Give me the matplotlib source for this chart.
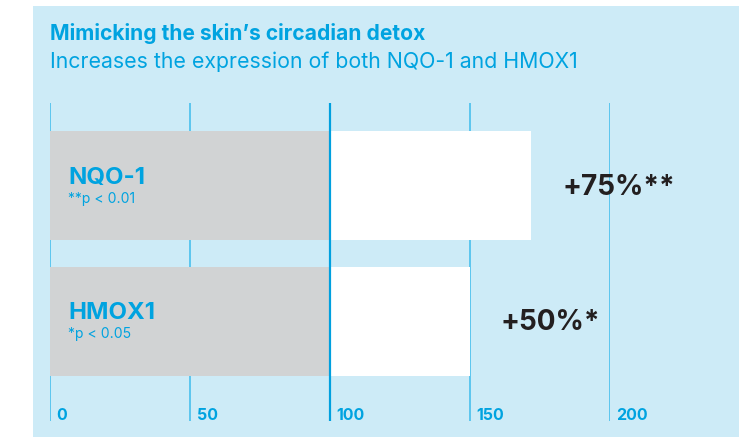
import matplotlib
matplotlib.use("Agg")
import matplotlib.pyplot as plt
from matplotlib.patches import Rectangle

plt.rcParams['font.family'] = ['Inter', 'DejaVu Sans']

# data
categories = ['NQO-1', 'HMOX1']
pvalues = ['**p < 0.01', '*p < 0.05']
control = [100, 100]
treated = [172, 150]
value_labels = ['+75%**', '+50%*']
ticks = [0, 50, 100, 150, 200]

title = 'Mimicking the skin\u2019s circadian detox'
subtitle = 'Increases the expression of both NQO-1 and HMOX1'

BLUE = '#00a3e0'
PANEL = '#cdebf7'
GRID = '#52c2ee'
GRAY = '#d1d3d4'
DARK = '#231f20'

W, H = 739, 437
fig = plt.figure(figsize=(W / 72, H / 72), dpi=72)
fig.patch.set_facecolor('white')

def fx(x):
    return x / W

def fy(y):
    return 1 - y / H

# light blue panel
fig.patches.append(Rectangle((fx(33), 0), fx(W - 33), (H - 6) / H,
                             transform=fig.transFigure, facecolor=PANEL,
                             edgecolor='none', zorder=-1))

fig.text(fx(50), fy(40), title, color=BLUE, fontsize=21, fontweight='bold',
         va='baseline', ha='left')
fig.text(fx(50), fy(68), subtitle, color=BLUE, fontsize=21.3,
         va='baseline', ha='left')

# axes: x 0..200 -> px 49.5..609.5, y px 103..421
ax = fig.add_axes([fx(49.5), fy(421), fx(560), (421 - 103) / H])
ax.set_zorder(2)
ax.set_facecolor('none')
ax.set_xlim(0, 200)
ax.set_ylim(1.732, -0.607)
for s in ax.spines.values():
    s.set_visible(False)
ax.set_xticks([])
ax.set_yticks([])

ypos = list(range(len(categories)))

for t in ticks:
    if t == 100:
        ax.axvline(t, color='#00a0df', lw=2.2, zorder=5)
    else:
        ax.axvline(t, color=GRID, lw=1.8, zorder=1)
    ax.annotate(str(t), xy=(t, 0), xycoords=('data', 'axes fraction'),
                xytext=(7, 1), textcoords='offset points',
                color=BLUE, fontsize=16, fontweight='bold',
                ha='left', va='baseline', annotation_clip=False)

ax.barh(ypos, control, height=0.8, color=GRAY, zorder=2)
ax.barh(ypos, [t - c for t, c in zip(treated, control)], left=control,
        height=0.8, color='white', zorder=2)

for i, name in enumerate(categories):
    ax.annotate(name, xy=(0, i), xytext=(18.5, 2), textcoords='offset points',
                color=BLUE, fontsize=24, fontweight='bold',
                ha='left', va='baseline', zorder=6)
    ax.annotate(pvalues[i], xy=(0, i), xytext=(18.5, -17), textcoords='offset points',
                color=BLUE, fontsize=14, ha='left', va='baseline', zorder=6)
    ax.annotate(value_labels[i], xy=(treated[i], i), xytext=(31, -9),
                textcoords='offset points', color=DARK, fontsize=28,
                fontweight='bold', ha='left', va='baseline', zorder=6)

fig.savefig('out.png', dpi=72, facecolor='white')
